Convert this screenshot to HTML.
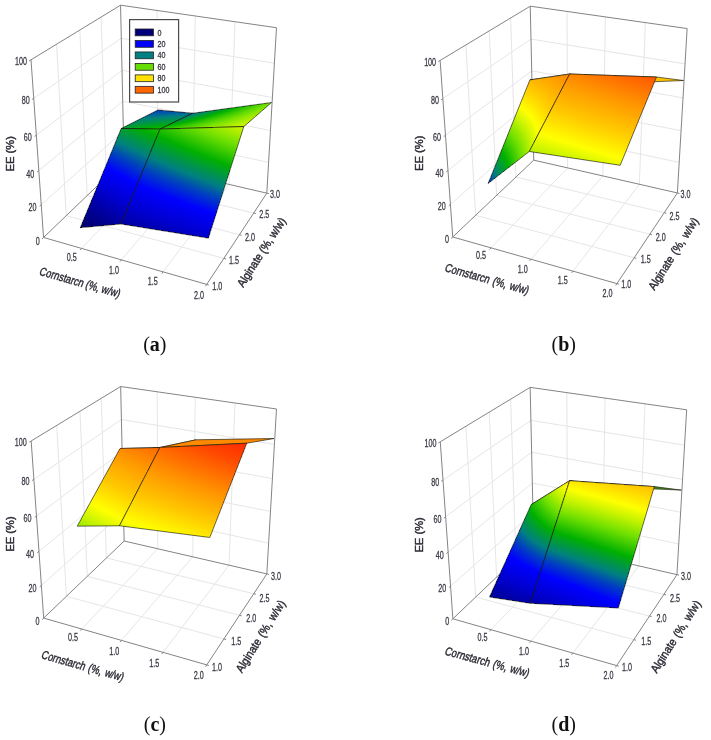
<!DOCTYPE html>
<html><head><meta charset="utf-8"><title>EE surface plots</title>
<style>html,body{margin:0;padding:0;background:#fff}svg{display:block}text{font-family:"Liberation Sans",sans-serif;fill:#3a3844;stroke:#3a3844;stroke-width:0.3px}text.ti{fill:#2c2a34;stroke:#2c2a34;stroke-width:0.42px}text.cap{font-family:"Liberation Serif",serif;fill:#111;stroke:none}</style>
</head><body>
<svg width="711" height="740" viewBox="0 0 711 740">
<rect width="711" height="740" fill="#fff"/>
<defs>
<linearGradient id="cm"><stop offset="0.0000" stop-color="#000058"/><stop offset="0.0800" stop-color="#00006c"/><stop offset="0.1500" stop-color="#000098"/><stop offset="0.2200" stop-color="#0000d0"/><stop offset="0.2900" stop-color="#0000ff"/><stop offset="0.3400" stop-color="#0040c0"/><stop offset="0.3800" stop-color="#008080"/><stop offset="0.4500" stop-color="#00b000"/><stop offset="0.5200" stop-color="#70e000"/><stop offset="0.5700" stop-color="#c0f200"/><stop offset="0.6150" stop-color="#ffff00"/><stop offset="0.6800" stop-color="#ffcc00"/><stop offset="0.7600" stop-color="#ff9800"/><stop offset="0.8200" stop-color="#ff6c00"/><stop offset="0.8700" stop-color="#ff4800"/><stop offset="0.9300" stop-color="#ff2800"/><stop offset="1.0000" stop-color="#ff1000"/></linearGradient>
<linearGradient id="g1" href="#cm" gradientUnits="userSpaceOnUse" x1="134.84" y1="57.36" x2="151.82" y2="218.88"/>
<linearGradient id="g2" href="#cm" gradientUnits="userSpaceOnUse" x1="138.85" y1="58.5" x2="154.68" y2="216.09"/>
<linearGradient id="g3" href="#cm" gradientUnits="userSpaceOnUse" x1="142.86" y1="59.65" x2="157.6" y2="213.37"/>
<linearGradient id="g4" href="#cm" gradientUnits="userSpaceOnUse" x1="146.88" y1="60.79" x2="160.59" y2="210.73"/>
<linearGradient id="g5" href="#cm" gradientUnits="userSpaceOnUse" x1="150.89" y1="61.94" x2="163.63" y2="208.15"/>
<linearGradient id="g6" href="#cm" gradientUnits="userSpaceOnUse" x1="154.91" y1="63.09" x2="166.73" y2="205.63"/>
<linearGradient id="g7" href="#cm" gradientUnits="userSpaceOnUse" x1="158.94" y1="64.24" x2="169.88" y2="203.18"/>
<linearGradient id="g8" href="#cm" gradientUnits="userSpaceOnUse" x1="162.96" y1="65.39" x2="173.08" y2="200.79"/>
<linearGradient id="g9" href="#cm" gradientUnits="userSpaceOnUse" x1="167" y1="66.54" x2="176.34" y2="198.46"/>
<linearGradient id="g10" href="#cm" gradientUnits="userSpaceOnUse" x1="171.04" y1="67.7" x2="179.65" y2="196.19"/>
<linearGradient id="g11" href="#cm" gradientUnits="userSpaceOnUse" x1="172.71" y1="85.81" x2="190.77" y2="168.48"/>
<linearGradient id="g12" href="#cm" gradientUnits="userSpaceOnUse" x1="178.98" y1="80.74" x2="199.9" y2="171.02"/>
<linearGradient id="g13" href="#cm" gradientUnits="userSpaceOnUse" x1="185.07" y1="75.22" x2="209.28" y2="173.65"/>
<linearGradient id="g14" href="#cm" gradientUnits="userSpaceOnUse" x1="190.93" y1="69.2" x2="218.92" y2="176.38"/>
<linearGradient id="g15" href="#cm" gradientUnits="userSpaceOnUse" x1="196.49" y1="62.63" x2="228.85" y2="179.2"/>
<linearGradient id="g16" href="#cm" gradientUnits="userSpaceOnUse" x1="201.7" y1="55.47" x2="239.1" y2="182.11"/>
<linearGradient id="g17" href="#cm" gradientUnits="userSpaceOnUse" x1="206.45" y1="47.65" x2="249.71" y2="185.11"/>
<linearGradient id="g18" href="#cm" gradientUnits="userSpaceOnUse" x1="210.66" y1="39.13" x2="260.7" y2="188.19"/>
<linearGradient id="g19" href="#cm" gradientUnits="userSpaceOnUse" x1="214.18" y1="29.84" x2="272.13" y2="191.35"/>
<linearGradient id="g20" href="#cm" gradientUnits="userSpaceOnUse" x1="216.87" y1="19.74" x2="284.05" y2="194.56"/>
<linearGradient id="g21" href="#cm" gradientUnits="userSpaceOnUse" x1="65.29" y1="245.98" x2="212.51" y2="-21.54"/>
<linearGradient id="g22" href="#cm" gradientUnits="userSpaceOnUse" x1="67.84" y1="248.06" x2="216.48" y2="-21.3"/>
<linearGradient id="g23" href="#cm" gradientUnits="userSpaceOnUse" x1="70.39" y1="250.17" x2="220.47" y2="-21.05"/>
<linearGradient id="g24" href="#cm" gradientUnits="userSpaceOnUse" x1="72.93" y1="252.31" x2="224.5" y2="-20.8"/>
<linearGradient id="g25" href="#cm" gradientUnits="userSpaceOnUse" x1="75.46" y1="254.49" x2="228.55" y2="-20.55"/>
<linearGradient id="g26" href="#cm" gradientUnits="userSpaceOnUse" x1="77.99" y1="256.69" x2="232.63" y2="-20.29"/>
<linearGradient id="g27" href="#cm" gradientUnits="userSpaceOnUse" x1="80.5" y1="258.93" x2="236.75" y2="-20.03"/>
<linearGradient id="g28" href="#cm" gradientUnits="userSpaceOnUse" x1="83.01" y1="261.2" x2="240.89" y2="-19.77"/>
<linearGradient id="g29" href="#cm" gradientUnits="userSpaceOnUse" x1="85.5" y1="263.51" x2="245.07" y2="-19.5"/>
<linearGradient id="g30" href="#cm" gradientUnits="userSpaceOnUse" x1="87.98" y1="265.85" x2="249.27" y2="-19.22"/>
<linearGradient id="g31" href="#cm" gradientUnits="userSpaceOnUse" x1="103.45" y1="274.34" x2="231.84" y2="-30.1"/>
<linearGradient id="g32" href="#cm" gradientUnits="userSpaceOnUse" x1="111.42" y1="276.98" x2="237.32" y2="-26.3"/>
<linearGradient id="g33" href="#cm" gradientUnits="userSpaceOnUse" x1="119.47" y1="279.64" x2="243.01" y2="-22.57"/>
<linearGradient id="g34" href="#cm" gradientUnits="userSpaceOnUse" x1="127.61" y1="282.31" x2="248.92" y2="-18.91"/>
<linearGradient id="g35" href="#cm" gradientUnits="userSpaceOnUse" x1="135.83" y1="285.01" x2="255.03" y2="-15.32"/>
<linearGradient id="g36" href="#cm" gradientUnits="userSpaceOnUse" x1="144.14" y1="287.73" x2="261.34" y2="-11.78"/>
<linearGradient id="g37" href="#cm" gradientUnits="userSpaceOnUse" x1="152.54" y1="290.47" x2="267.84" y2="-8.3"/>
<linearGradient id="g38" href="#cm" gradientUnits="userSpaceOnUse" x1="161.03" y1="293.23" x2="274.53" y2="-4.88"/>
<linearGradient id="g39" href="#cm" gradientUnits="userSpaceOnUse" x1="169.62" y1="296.02" x2="281.39" y2="-1.5"/>
<linearGradient id="g40" href="#cm" gradientUnits="userSpaceOnUse" x1="178.3" y1="298.83" x2="288.44" y2="1.83"/>
<linearGradient id="g41" href="#cm" gradientUnits="userSpaceOnUse" x1="551.51" y1="103.2" x2="549.82" y2="68.94"/>
<linearGradient id="g42" href="#cm" gradientUnits="userSpaceOnUse" x1="555.26" y1="103.82" x2="553.59" y2="68.32"/>
<linearGradient id="g43" href="#cm" gradientUnits="userSpaceOnUse" x1="559.04" y1="104.47" x2="557.39" y2="67.72"/>
<linearGradient id="g44" href="#cm" gradientUnits="userSpaceOnUse" x1="562.83" y1="105.12" x2="561.2" y2="67.12"/>
<linearGradient id="g45" href="#cm" gradientUnits="userSpaceOnUse" x1="566.64" y1="105.8" x2="565.04" y2="66.54"/>
<linearGradient id="g46" href="#cm" gradientUnits="userSpaceOnUse" x1="570.46" y1="106.48" x2="568.9" y2="65.97"/>
<linearGradient id="g47" href="#cm" gradientUnits="userSpaceOnUse" x1="574.31" y1="107.18" x2="572.79" y2="65.42"/>
<linearGradient id="g48" href="#cm" gradientUnits="userSpaceOnUse" x1="578.17" y1="107.88" x2="576.69" y2="64.88"/>
<linearGradient id="g49" href="#cm" gradientUnits="userSpaceOnUse" x1="582.06" y1="108.61" x2="580.61" y2="64.36"/>
<linearGradient id="g50" href="#cm" gradientUnits="userSpaceOnUse" x1="585.96" y1="109.34" x2="584.56" y2="63.85"/>
<linearGradient id="g51" href="#cm" gradientUnits="userSpaceOnUse" x1="409.6" y1="235.78" x2="601.15" y2="37.37"/>
<linearGradient id="g52" href="#cm" gradientUnits="userSpaceOnUse" x1="406.66" y1="236.7" x2="605.45" y2="38.8"/>
<linearGradient id="g53" href="#cm" gradientUnits="userSpaceOnUse" x1="403.19" y1="237.32" x2="609.82" y2="40.42"/>
<linearGradient id="g54" href="#cm" gradientUnits="userSpaceOnUse" x1="399.16" y1="237.55" x2="614.25" y2="42.24"/>
<linearGradient id="g55" href="#cm" gradientUnits="userSpaceOnUse" x1="394.5" y1="237.29" x2="618.72" y2="44.3"/>
<linearGradient id="g56" href="#cm" gradientUnits="userSpaceOnUse" x1="389.18" y1="236.4" x2="623.22" y2="46.62"/>
<linearGradient id="g57" href="#cm" gradientUnits="userSpaceOnUse" x1="383.14" y1="234.7" x2="627.72" y2="49.25"/>
<linearGradient id="g58" href="#cm" gradientUnits="userSpaceOnUse" x1="376.37" y1="231.97" x2="632.19" y2="52.23"/>
<linearGradient id="g59" href="#cm" gradientUnits="userSpaceOnUse" x1="368.88" y1="227.96" x2="636.56" y2="55.61"/>
<linearGradient id="g60" href="#cm" gradientUnits="userSpaceOnUse" x1="360.74" y1="222.35" x2="640.76" y2="59.42"/>
<linearGradient id="g61" href="#cm" gradientUnits="userSpaceOnUse" x1="470.52" y1="361.66" x2="593.48" y2="-5.55"/>
<linearGradient id="g62" href="#cm" gradientUnits="userSpaceOnUse" x1="479.57" y1="363.59" x2="600.83" y2="-2.58"/>
<linearGradient id="g63" href="#cm" gradientUnits="userSpaceOnUse" x1="488.67" y1="365.57" x2="608.32" y2="0.37"/>
<linearGradient id="g64" href="#cm" gradientUnits="userSpaceOnUse" x1="497.84" y1="367.6" x2="615.93" y2="3.29"/>
<linearGradient id="g65" href="#cm" gradientUnits="userSpaceOnUse" x1="507.07" y1="369.68" x2="623.68" y2="6.19"/>
<linearGradient id="g66" href="#cm" gradientUnits="userSpaceOnUse" x1="516.37" y1="371.81" x2="631.55" y2="9.07"/>
<linearGradient id="g67" href="#cm" gradientUnits="userSpaceOnUse" x1="525.73" y1="373.98" x2="639.54" y2="11.94"/>
<linearGradient id="g68" href="#cm" gradientUnits="userSpaceOnUse" x1="535.18" y1="376.21" x2="647.67" y2="14.79"/>
<linearGradient id="g69" href="#cm" gradientUnits="userSpaceOnUse" x1="544.69" y1="378.48" x2="655.92" y2="17.62"/>
<linearGradient id="g70" href="#cm" gradientUnits="userSpaceOnUse" x1="554.28" y1="380.8" x2="664.3" y2="20.44"/>
<linearGradient id="g71" href="#cm" gradientUnits="userSpaceOnUse" x1="147.25" y1="499.37" x2="137.24" y2="430.95"/>
<linearGradient id="g72" href="#cm" gradientUnits="userSpaceOnUse" x1="151.65" y1="497.36" x2="140.95" y2="431.42"/>
<linearGradient id="g73" href="#cm" gradientUnits="userSpaceOnUse" x1="156.11" y1="495.25" x2="144.68" y2="431.86"/>
<linearGradient id="g74" href="#cm" gradientUnits="userSpaceOnUse" x1="160.64" y1="493.08" x2="148.44" y2="432.23"/>
<linearGradient id="g75" href="#cm" gradientUnits="userSpaceOnUse" x1="165.28" y1="490.92" x2="152.21" y2="432.5"/>
<linearGradient id="g76" href="#cm" gradientUnits="userSpaceOnUse" x1="170.09" y1="488.91" x2="155.97" y2="432.63"/>
<linearGradient id="g77" href="#cm" gradientUnits="userSpaceOnUse" x1="175.21" y1="487.31" x2="159.68" y2="432.54"/>
<linearGradient id="g78" href="#cm" gradientUnits="userSpaceOnUse" x1="180.93" y1="486.58" x2="163.24" y2="432.07"/>
<linearGradient id="g79" href="#cm" gradientUnits="userSpaceOnUse" x1="187.94" y1="487.65" x2="166.47" y2="430.98"/>
<linearGradient id="g80" href="#cm" gradientUnits="userSpaceOnUse" x1="198.07" y1="492.5" x2="168.83" y2="428.72"/>
<linearGradient id="g81" href="#cm" gradientUnits="userSpaceOnUse" x1="-12.43" y1="711.47" x2="157.68" y2="374.12"/>
<linearGradient id="g82" href="#cm" gradientUnits="userSpaceOnUse" x1="-9.3" y1="713.9" x2="160.89" y2="375.3"/>
<linearGradient id="g83" href="#cm" gradientUnits="userSpaceOnUse" x1="-6.14" y1="716.34" x2="164.11" y2="376.49"/>
<linearGradient id="g84" href="#cm" gradientUnits="userSpaceOnUse" x1="-2.95" y1="718.8" x2="167.35" y2="377.69"/>
<linearGradient id="g85" href="#cm" gradientUnits="userSpaceOnUse" x1="0.25" y1="721.28" x2="170.62" y2="378.9"/>
<linearGradient id="g86" href="#cm" gradientUnits="userSpaceOnUse" x1="3.48" y1="723.77" x2="173.91" y2="380.13"/>
<linearGradient id="g87" href="#cm" gradientUnits="userSpaceOnUse" x1="6.73" y1="726.28" x2="177.22" y2="381.36"/>
<linearGradient id="g88" href="#cm" gradientUnits="userSpaceOnUse" x1="10.01" y1="728.81" x2="180.55" y2="382.6"/>
<linearGradient id="g89" href="#cm" gradientUnits="userSpaceOnUse" x1="13.31" y1="731.35" x2="183.91" y2="383.85"/>
<linearGradient id="g90" href="#cm" gradientUnits="userSpaceOnUse" x1="16.63" y1="733.91" x2="187.29" y2="385.11"/>
<linearGradient id="g91" href="#cm" gradientUnits="userSpaceOnUse" x1="43.57" y1="743.05" x2="183.94" y2="384.62"/>
<linearGradient id="g92" href="#cm" gradientUnits="userSpaceOnUse" x1="53.92" y1="743.98" x2="190.28" y2="388.33"/>
<linearGradient id="g93" href="#cm" gradientUnits="userSpaceOnUse" x1="64.22" y1="745.01" x2="196.85" y2="391.94"/>
<linearGradient id="g94" href="#cm" gradientUnits="userSpaceOnUse" x1="74.48" y1="746.15" x2="203.63" y2="395.48"/>
<linearGradient id="g95" href="#cm" gradientUnits="userSpaceOnUse" x1="84.72" y1="747.38" x2="210.63" y2="398.94"/>
<linearGradient id="g96" href="#cm" gradientUnits="userSpaceOnUse" x1="94.95" y1="748.72" x2="217.82" y2="402.33"/>
<linearGradient id="g97" href="#cm" gradientUnits="userSpaceOnUse" x1="105.18" y1="750.14" x2="225.2" y2="405.66"/>
<linearGradient id="g98" href="#cm" gradientUnits="userSpaceOnUse" x1="115.41" y1="751.65" x2="232.76" y2="408.93"/>
<linearGradient id="g99" href="#cm" gradientUnits="userSpaceOnUse" x1="125.67" y1="753.25" x2="240.5" y2="412.15"/>
<linearGradient id="g100" href="#cm" gradientUnits="userSpaceOnUse" x1="135.95" y1="754.94" x2="248.42" y2="415.32"/>
<linearGradient id="g101" href="#cm" gradientUnits="userSpaceOnUse" x1="597.94" y1="539.2" x2="483.8" y2="435.56"/>
<linearGradient id="g102" href="#cm" gradientUnits="userSpaceOnUse" x1="575.91" y1="525.69" x2="525.77" y2="453.91"/>
<linearGradient id="g103" href="#cm" gradientUnits="userSpaceOnUse" x1="571.88" y1="518.48" x2="540.84" y2="462.28"/>
<linearGradient id="g104" href="#cm" gradientUnits="userSpaceOnUse" x1="572.51" y1="514.96" x2="549.16" y2="465.21"/>
<linearGradient id="g105" href="#cm" gradientUnits="userSpaceOnUse" x1="574.84" y1="513.33" x2="555.13" y2="465.56"/>
<linearGradient id="g106" href="#cm" gradientUnits="userSpaceOnUse" x1="577.91" y1="512.76" x2="560.13" y2="464.59"/>
<linearGradient id="g107" href="#cm" gradientUnits="userSpaceOnUse" x1="581.37" y1="512.85" x2="564.69" y2="462.95"/>
<linearGradient id="g108" href="#cm" gradientUnits="userSpaceOnUse" x1="585.02" y1="513.34" x2="569.04" y2="460.95"/>
<linearGradient id="g109" href="#cm" gradientUnits="userSpaceOnUse" x1="588.78" y1="514.12" x2="573.29" y2="458.79"/>
<linearGradient id="g110" href="#cm" gradientUnits="userSpaceOnUse" x1="592.61" y1="515.08" x2="577.52" y2="456.57"/>
<linearGradient id="g111" href="#cm" gradientUnits="userSpaceOnUse" x1="454.69" y1="627.63" x2="641.34" y2="377.23"/>
<linearGradient id="g112" href="#cm" gradientUnits="userSpaceOnUse" x1="459.62" y1="629.02" x2="636.76" y2="379.88"/>
<linearGradient id="g113" href="#cm" gradientUnits="userSpaceOnUse" x1="464.45" y1="630.36" x2="633.06" y2="382.55"/>
<linearGradient id="g114" href="#cm" gradientUnits="userSpaceOnUse" x1="469.2" y1="631.64" x2="630.12" y2="385.2"/>
<linearGradient id="g115" href="#cm" gradientUnits="userSpaceOnUse" x1="473.88" y1="632.89" x2="627.84" y2="387.81"/>
<linearGradient id="g116" href="#cm" gradientUnits="userSpaceOnUse" x1="478.5" y1="634.12" x2="626.14" y2="390.36"/>
<linearGradient id="g117" href="#cm" gradientUnits="userSpaceOnUse" x1="483.08" y1="635.33" x2="624.95" y2="392.84"/>
<linearGradient id="g118" href="#cm" gradientUnits="userSpaceOnUse" x1="487.61" y1="636.53" x2="624.22" y2="395.25"/>
<linearGradient id="g119" href="#cm" gradientUnits="userSpaceOnUse" x1="492.11" y1="637.72" x2="623.88" y2="397.59"/>
<linearGradient id="g120" href="#cm" gradientUnits="userSpaceOnUse" x1="496.59" y1="638.92" x2="623.91" y2="399.85"/>
<linearGradient id="g121" href="#cm" gradientUnits="userSpaceOnUse" x1="517.37" y1="649.48" x2="606.38" y2="389.67"/>
<linearGradient id="g122" href="#cm" gradientUnits="userSpaceOnUse" x1="524.68" y1="652.98" x2="614.25" y2="390.95"/>
<linearGradient id="g123" href="#cm" gradientUnits="userSpaceOnUse" x1="532.07" y1="656.53" x2="622.21" y2="392.26"/>
<linearGradient id="g124" href="#cm" gradientUnits="userSpaceOnUse" x1="539.54" y1="660.14" x2="630.26" y2="393.58"/>
<linearGradient id="g125" href="#cm" gradientUnits="userSpaceOnUse" x1="547.09" y1="663.81" x2="638.39" y2="394.93"/>
<linearGradient id="g126" href="#cm" gradientUnits="userSpaceOnUse" x1="554.72" y1="667.53" x2="646.62" y2="396.3"/>
<linearGradient id="g127" href="#cm" gradientUnits="userSpaceOnUse" x1="562.43" y1="671.32" x2="654.94" y2="397.7"/>
<linearGradient id="g128" href="#cm" gradientUnits="userSpaceOnUse" x1="570.23" y1="675.16" x2="663.35" y2="399.11"/>
<linearGradient id="g129" href="#cm" gradientUnits="userSpaceOnUse" x1="578.11" y1="679.07" x2="671.85" y2="400.56"/>
<linearGradient id="g130" href="#cm" gradientUnits="userSpaceOnUse" x1="586.08" y1="683.05" x2="680.46" y2="402.02"/>
</defs>
<g id="panel-a">
<path d="M81.61 248.43L157.71 167.93M157.71 167.93L157.14 10.48M121.4 259.87L192.68 176.01M192.68 176.01L195.25 15.98M163.06 271.86L229.01 184.41M229.01 184.41L234.99 21.72M66.28 215.65L223.86 258.39M66.28 215.65L56.58 44.22M87.13 195.62L239.46 234.69M87.13 195.62L79.83 30.03M106.32 177.18L253.72 213.03M106.32 177.18L101.08 17.08M41.24 204.67L123.4 131.16M123.4 131.16L268.6 162.38M38.83 170.58L122.73 101.23M122.73 101.23L270.47 130.52M36.33 135.13L122.03 70.29M122.03 70.29L272.4 97.5M33.73 98.24L121.31 38.3M121.31 38.3L274.4 63.25" stroke="#e6e6e6" stroke-width="1" fill="none"/>
<path d="M43.56 237.48L124.05 160.14M124.05 160.14L266.81 193.15M124.05 160.14L120.56 5.19M31.01 59.81L120.56 5.19M120.56 5.19L276.48 27.71M266.81 193.15L276.48 27.71" stroke="#848484" stroke-width="1" fill="none"/>
<rect x="129.6" y="19.6" width="49" height="82.4" fill="#fff" stroke="#4a4a4a" stroke-width="1.2"/>
<rect x="135.2" y="29" width="18.2" height="6.8" fill="#00007c" stroke="#222" stroke-width="0.8"/>
<text transform="translate(157.6,35.5) scale(0.767,1)" font-size="9.3" text-anchor="start">0</text>
<rect x="135.2" y="40.47" width="18.2" height="6.8" fill="#0000ff" stroke="#222" stroke-width="0.8"/>
<text transform="translate(157.6,46.97) scale(0.767,1)" font-size="9.3" text-anchor="start">20</text>
<rect x="135.2" y="51.94" width="18.2" height="6.8" fill="#008080" stroke="#222" stroke-width="0.8"/>
<text transform="translate(157.6,58.44) scale(0.767,1)" font-size="9.3" text-anchor="start">40</text>
<rect x="135.2" y="63.41" width="18.2" height="6.8" fill="#66dd00" stroke="#222" stroke-width="0.8"/>
<text transform="translate(157.6,69.91) scale(0.767,1)" font-size="9.3" text-anchor="start">60</text>
<rect x="135.2" y="74.88" width="18.2" height="6.8" fill="#ffe000" stroke="#222" stroke-width="0.8"/>
<text transform="translate(157.6,81.38) scale(0.767,1)" font-size="9.3" text-anchor="start">80</text>
<rect x="135.2" y="86.35" width="18.2" height="6.8" fill="#ff6600" stroke="#222" stroke-width="0.8"/>
<text transform="translate(157.6,92.85) scale(0.767,1)" font-size="9.3" text-anchor="start">100</text>
<g shape-rendering="crispEdges"><polygon points="121.2,128.5 126.32,128.58 162.55,110.42 157.9,110" fill="url(#g1)"/><polygon points="124.99,128.56 130.14,128.64 166.01,110.74 161.34,110.31" fill="url(#g2)"/><polygon points="128.8,128.62 133.97,128.7 169.48,111.06 164.79,110.63" fill="url(#g3)"/><polygon points="132.63,128.68 137.83,128.76 172.97,111.37 168.26,110.95" fill="url(#g4)"/><polygon points="136.48,128.74 141.71,128.82 176.48,111.69 171.75,111.26" fill="url(#g5)"/><polygon points="140.35,128.8 145.6,128.88 180,112.02 175.25,111.58" fill="url(#g6)"/><polygon points="144.24,128.86 149.52,128.94 183.54,112.34 178.77,111.9" fill="url(#g7)"/><polygon points="148.15,128.92 153.46,129 187.1,112.66 182.3,112.22" fill="url(#g8)"/><polygon points="152.08,128.98 157.42,129.06 190.67,112.99 185.85,112.55" fill="url(#g9)"/><polygon points="156.03,129.04 160,129.1 193,113.2 189.42,112.87" fill="url(#g10)"/></g><polygon points="121.2,128.5 160,129.1 193,113.2 157.9,110" fill="none" stroke="#1c1c10" stroke-width="0.65" stroke-linejoin="round"/>
<g shape-rendering="crispEdges"><polygon points="160,129.1 170.77,128.78 203.12,111.82 193,113.2" fill="url(#g11)"/><polygon points="167.96,128.86 178.86,128.54 210.71,110.79 200.48,112.18" fill="url(#g12)"/><polygon points="176.02,128.62 187.03,128.29 218.38,109.75 208.04,111.15" fill="url(#g13)"/><polygon points="184.16,128.38 195.3,128.05 226.14,108.69 215.69,110.11" fill="url(#g14)"/><polygon points="192.39,128.13 203.66,127.8 233.98,107.62 223.41,109.06" fill="url(#g15)"/><polygon points="200.72,127.88 212.11,127.54 241.91,106.54 231.22,108" fill="url(#g16)"/><polygon points="209.14,127.63 220.66,127.29 249.92,105.45 239.12,106.92" fill="url(#g17)"/><polygon points="217.66,127.38 229.31,127.03 258.03,104.35 247.11,105.83" fill="url(#g18)"/><polygon points="226.27,127.12 238.06,126.77 266.22,103.23 255.18,104.74" fill="url(#g19)"/><polygon points="234.99,126.86 243.8,126.6 271.6,102.5 263.34,103.62" fill="url(#g20)"/></g><polygon points="160,129.1 243.8,126.6 271.6,102.5 193,113.2" fill="none" stroke="#1c1c10" stroke-width="0.65" stroke-linejoin="round"/>
<g shape-rendering="crispEdges"><polygon points="80.3,227.7 85.65,227.21 126.32,128.58 121.2,128.5" fill="url(#g21)"/><polygon points="84.26,227.34 89.64,226.85 130.14,128.64 124.99,128.56" fill="url(#g22)"/><polygon points="88.24,226.98 93.66,226.49 133.97,128.7 128.8,128.62" fill="url(#g23)"/><polygon points="92.25,226.61 97.7,226.12 137.83,128.76 132.63,128.68" fill="url(#g24)"/><polygon points="96.28,226.25 101.76,225.75 141.71,128.82 136.48,128.74" fill="url(#g25)"/><polygon points="100.34,225.88 105.85,225.38 145.6,128.88 140.35,128.8" fill="url(#g26)"/><polygon points="104.42,225.51 109.97,225 149.52,128.94 144.24,128.86" fill="url(#g27)"/><polygon points="108.52,225.13 114.11,224.63 153.46,129 148.15,128.92" fill="url(#g28)"/><polygon points="112.66,224.76 118.28,224.25 157.42,129.06 152.08,128.98" fill="url(#g29)"/><polygon points="116.82,224.38 121,224 160,129.1 156.03,129.04" fill="url(#g30)"/></g><polygon points="80.3,227.7 121,224 160,129.1 121.2,128.5" fill="none" stroke="#1c1c10" stroke-width="0.65" stroke-linejoin="round"/>
<g shape-rendering="crispEdges"><polygon points="121,224 132.27,225.82 170.77,128.78 160,129.1" fill="url(#g31)"/><polygon points="129.33,225.34 140.71,227.18 178.86,128.54 167.96,128.86" fill="url(#g32)"/><polygon points="137.75,226.7 149.25,228.56 187.03,128.29 176.02,128.62" fill="url(#g33)"/><polygon points="146.25,228.07 157.88,229.95 195.3,128.05 184.16,128.38" fill="url(#g34)"/><polygon points="154.85,229.46 166.6,231.36 203.66,127.8 192.39,128.13" fill="url(#g35)"/><polygon points="163.54,230.86 175.41,232.78 212.11,127.54 200.72,127.88" fill="url(#g36)"/><polygon points="172.32,232.28 184.32,234.21 220.66,127.29 209.14,127.63" fill="url(#g37)"/><polygon points="181.19,233.71 193.33,235.67 229.31,127.03 217.66,127.38" fill="url(#g38)"/><polygon points="190.16,235.16 202.43,237.14 238.06,126.77 226.27,127.12" fill="url(#g39)"/><polygon points="199.23,236.62 208.4,238.1 243.8,126.6 234.99,126.86" fill="url(#g40)"/></g><polygon points="121,224 208.4,238.1 243.8,126.6 160,129.1" fill="none" stroke="#1c1c10" stroke-width="0.65" stroke-linejoin="round"/>
<path d="M43.56 237.48L31.01 59.81M43.56 237.48L206.72 284.42M206.72 284.42L266.81 193.15M43.56 237.48L41.97 239M41.24 204.67L39.6 206.14M38.83 170.58L37.14 171.98M36.33 135.13L34.58 136.46M33.73 98.24L31.91 99.48M31.01 59.81L29.13 60.95M81.61 248.43L80.1 250.02M121.4 259.87L119.98 261.55M163.06 271.86L161.74 273.61M206.72 284.42L205.51 286.26M206.72 284.42L208.84 285.03M223.86 258.39L225.98 258.96M239.46 234.69L241.59 235.24M253.72 213.03L255.86 213.55M266.81 193.15L268.95 193.64" stroke="#848484" stroke-width="1" fill="none"/>
<text transform="translate(26.9,64.95) scale(0.665,1)" font-size="10.8" text-anchor="end">100</text>
<text transform="translate(29.7,104.25) scale(0.665,1)" font-size="10.8" text-anchor="end">80</text>
<text transform="translate(31.8,141.45) scale(0.665,1)" font-size="10.8" text-anchor="end">60</text>
<text transform="translate(34.2,177.75) scale(0.665,1)" font-size="10.8" text-anchor="end">40</text>
<text transform="translate(36.6,211.35) scale(0.665,1)" font-size="10.8" text-anchor="end">20</text>
<text transform="translate(39.7,244.85) scale(0.665,1)" font-size="10.8" text-anchor="end">0</text>
<text transform="translate(71.8,260.75) scale(0.665,1)" font-size="10.8" text-anchor="middle">0.5</text>
<text transform="translate(114,274.25) scale(0.665,1)" font-size="10.8" text-anchor="middle">1.0</text>
<text transform="translate(152.8,285.15) scale(0.665,1)" font-size="10.8" text-anchor="middle">1.5</text>
<text transform="translate(198.9,298.75) scale(0.665,1)" font-size="10.8" text-anchor="middle">2.0</text>
<text transform="translate(275,197.65) scale(0.665,1)" font-size="10.8" text-anchor="middle">3.0</text>
<text transform="translate(264.25,217.75) scale(0.665,1)" font-size="10.8" text-anchor="middle">2.5</text>
<text transform="translate(249.9,241.15) scale(0.665,1)" font-size="10.8" text-anchor="middle">2.0</text>
<text transform="translate(233.95,264.15) scale(0.665,1)" font-size="10.8" text-anchor="middle">1.5</text>
<text transform="translate(217.3,290.45) scale(0.665,1)" font-size="10.8" text-anchor="middle">1.0</text>
<text transform="translate(14.1,153.7) rotate(-90) scale(1.12,1)" font-size="10" text-anchor="middle" class="ti">EE (%)</text>
<text transform="translate(38.6,274.8) rotate(15.8) skewX(-6) scale(0.78,1)" font-size="11.9" class="ti" word-spacing="0">Cornstarcn (%, w/w)</text>
<text transform="translate(243.2,288) rotate(-57.3) scale(0.885,1)" font-size="11.7" class="ti" word-spacing="0">Alginate (%, w/w)</text>
</g>
<g id="panel-b">
<path d="M491.04 247.86L567.62 167.88M567.62 167.88L567.04 11.44M531.08 259.24L602.8 175.91M602.8 175.91L605.38 16.9M573 271.15L639.36 184.26M639.36 184.26L645.38 22.61M475.61 215.3L634.18 257.76M475.61 215.3L465.85 44.96M496.59 195.4L649.87 234.22M496.59 195.4L489.25 30.87M515.9 177.07L664.22 212.69M515.9 177.07L510.63 17.99M450.42 204.39L533.09 131.35M533.09 131.35L679.2 162.37M447.99 170.52L532.41 101.61M532.41 101.61L681.08 130.71M445.47 135.29L531.71 70.87M531.71 70.87L683.02 97.9M442.85 98.63L530.98 39.08M530.98 39.08L685.04 63.87" stroke="#e6e6e6" stroke-width="1" fill="none"/>
<path d="M452.75 236.99L533.74 160.15M533.74 160.15L677.39 192.94M533.74 160.15L530.24 6.19M440.12 60.45L530.24 6.19M530.24 6.19L687.13 28.56M677.39 192.94L687.13 28.56" stroke="#848484" stroke-width="1" fill="none"/>
<g shape-rendering="crispEdges"><polygon points="529.9,79.9 535.14,79.12 572.2,84.96 567.31,85.13" fill="url(#g41)"/><polygon points="533.78,79.33 539.04,78.54 575.84,84.83 570.93,85" fill="url(#g42)"/><polygon points="537.67,78.75 542.97,77.96 579.5,84.7 574.56,84.88" fill="url(#g43)"/><polygon points="541.59,78.17 546.92,77.38 583.18,84.58 578.22,84.75" fill="url(#g44)"/><polygon points="545.54,77.58 550.9,76.79 586.87,84.45 581.89,84.62" fill="url(#g45)"/><polygon points="549.51,76.99 554.9,76.19 590.59,84.32 585.58,84.49" fill="url(#g46)"/><polygon points="553.5,76.4 558.92,75.6 594.32,84.19 589.28,84.36" fill="url(#g47)"/><polygon points="557.51,75.81 562.97,75 598.07,84.05 593.01,84.23" fill="url(#g48)"/><polygon points="561.55,75.21 567.04,74.39 601.83,83.92 596.75,84.1" fill="url(#g49)"/><polygon points="565.61,74.61 569.7,74 604.29,83.84 600.51,83.97" fill="url(#g50)"/></g><polygon points="529.9,79.9 569.7,74 604.29,83.84 567.31,85.13" fill="none" stroke="#1c1c10" stroke-width="0.65" stroke-linejoin="round"/>
<polygon points="569.7,74 656.5,77 683.5,80.5 604.29,83.84" fill="#ffc400"/><polygon points="569.7,74 656.5,77 683.5,80.5 604.29,83.84" fill="none" stroke="#1c1c10" stroke-width="0.65" stroke-linejoin="round"/>
<g shape-rendering="crispEdges"><polygon points="488.1,183.5 493.44,179.35 535.14,79.12 529.9,79.9" fill="url(#g51)"/><polygon points="492.05,180.43 497.44,176.25 539.04,78.54 533.78,79.33" fill="url(#g52)"/><polygon points="496.04,177.34 501.48,173.12 542.97,77.96 537.67,78.75" fill="url(#g53)"/><polygon points="500.06,174.22 505.55,169.95 546.92,77.38 541.59,78.17" fill="url(#g54)"/><polygon points="504.12,171.06 509.66,166.76 550.9,76.79 545.54,77.58" fill="url(#g55)"/><polygon points="508.22,167.88 513.81,163.53 554.9,76.19 549.51,76.99" fill="url(#g56)"/><polygon points="512.36,164.67 518,160.28 558.92,75.6 553.5,76.4" fill="url(#g57)"/><polygon points="516.53,161.42 522.23,156.99 562.97,75 557.51,75.81" fill="url(#g58)"/><polygon points="520.75,158.15 526.5,153.67 567.04,74.39 561.55,75.21" fill="url(#g59)"/><polygon points="525,154.84 529.3,151.5 569.7,74 565.61,74.61" fill="url(#g60)"/></g><polygon points="488.1,183.5 529.3,151.5 569.7,74 529.9,79.9" fill="none" stroke="#1c1c10" stroke-width="0.65" stroke-linejoin="round"/>
<g shape-rendering="crispEdges"><polygon points="529.3,151.5 541.01,153.28 580.89,74.39 569.7,74" fill="url(#g61)"/><polygon points="537.96,152.82 549.79,154.61 589.28,74.68 577.97,74.29" fill="url(#g62)"/><polygon points="546.7,154.14 558.66,155.96 597.76,74.97 586.33,74.58" fill="url(#g63)"/><polygon points="555.54,155.49 567.63,157.32 606.33,75.27 594.78,74.87" fill="url(#g64)"/><polygon points="564.48,156.84 576.7,158.7 614.99,75.57 603.32,75.16" fill="url(#g65)"/><polygon points="573.52,158.22 585.87,160.09 623.74,75.87 611.95,75.46" fill="url(#g66)"/><polygon points="582.65,159.6 595.14,161.5 632.59,76.17 620.67,75.76" fill="url(#g67)"/><polygon points="591.88,161 604.51,162.92 641.53,76.48 629.48,76.07" fill="url(#g68)"/><polygon points="601.22,162.42 613.98,164.36 650.57,76.8 638.39,76.37" fill="url(#g69)"/><polygon points="610.66,163.85 620.2,165.3 656.5,77 647.4,76.69" fill="url(#g70)"/></g><polygon points="529.3,151.5 620.2,165.3 656.5,77 569.7,74" fill="none" stroke="#1c1c10" stroke-width="0.65" stroke-linejoin="round"/>
<path d="M452.75 236.99L440.12 60.45M452.75 236.99L616.93 283.63M616.93 283.63L677.39 192.94M452.75 236.99L451.15 238.5M450.42 204.39L448.77 205.85M447.99 170.52L446.29 171.91M445.47 135.29L443.71 136.61M442.85 98.63L441.03 99.87M440.12 60.45L438.24 61.58M491.04 247.86L489.51 249.45M531.08 259.24L529.64 260.91M573 271.15L571.66 272.9M616.93 283.63L615.71 285.46M616.93 283.63L619.05 284.23M634.18 257.76L636.3 258.33M649.87 234.22L652.01 234.76M664.22 212.69L666.36 213.21M677.39 192.94L679.53 193.43" stroke="#848484" stroke-width="1" fill="none"/>
<text transform="translate(436.1,65.5) scale(0.665,1)" font-size="10.8" text-anchor="end">100</text>
<text transform="translate(438.9,104.38) scale(0.665,1)" font-size="10.8" text-anchor="end">80</text>
<text transform="translate(441,141.18) scale(0.665,1)" font-size="10.8" text-anchor="end">60</text>
<text transform="translate(443.4,177.09) scale(0.665,1)" font-size="10.8" text-anchor="end">40</text>
<text transform="translate(445.8,210.32) scale(0.665,1)" font-size="10.8" text-anchor="end">20</text>
<text transform="translate(448.9,243.46) scale(0.665,1)" font-size="10.8" text-anchor="end">0</text>
<text transform="translate(481.1,259.05) scale(0.665,1)" font-size="10.8" text-anchor="middle">0.5</text>
<text transform="translate(522.8,272.95) scale(0.665,1)" font-size="10.8" text-anchor="middle">1.0</text>
<text transform="translate(562.8,284.25) scale(0.665,1)" font-size="10.8" text-anchor="middle">1.5</text>
<text transform="translate(607.6,296.85) scale(0.665,1)" font-size="10.8" text-anchor="middle">2.0</text>
<text transform="translate(685.4,197.75) scale(0.665,1)" font-size="10.8" text-anchor="middle">3.0</text>
<text transform="translate(674.4,219.55) scale(0.665,1)" font-size="10.8" text-anchor="middle">2.5</text>
<text transform="translate(660.7,240.55) scale(0.665,1)" font-size="10.8" text-anchor="middle">2.0</text>
<text transform="translate(645.8,262.65) scale(0.665,1)" font-size="10.8" text-anchor="middle">1.5</text>
<text transform="translate(626.2,288.45) scale(0.665,1)" font-size="10.8" text-anchor="middle">1.0</text>
<text transform="translate(422.6,153.2) rotate(-90) scale(1.12,1)" font-size="10" text-anchor="middle" class="ti">EE (%)</text>
<text transform="translate(444,271.1) rotate(15.6) skewX(-6) scale(0.79,1)" font-size="11.9" class="ti" word-spacing="1.2">Cornstarcn (%, w/w)</text>
<text transform="translate(654.4,291) rotate(-57.6) scale(0.897,1)" font-size="11.7" class="ti" word-spacing="1.2">Alginate (%, w/w)</text>
</g>
<g id="panel-c">
<path d="M81.73 629.01L157.79 548.76M157.79 548.76L157.21 391.8M121.5 640.42L192.73 556.82M192.73 556.82L195.3 397.29M163.14 652.36L229.04 565.19M229.04 565.19L235.02 403.01M66.41 596.33L223.9 638.93M66.41 596.33L56.71 425.43M87.24 576.37L239.49 615.31M87.24 576.37L79.96 411.3M106.43 557.98L253.74 593.72M106.43 557.98L101.19 398.38M41.39 585.39L123.5 512.11M123.5 512.11L268.61 543.23M38.98 551.41L122.82 482.27M122.82 482.27L270.48 511.47M36.48 516.06L122.13 451.43M122.13 451.43L272.41 478.55M33.88 479.28L121.41 419.53M121.41 419.53L274.41 444.41" stroke="#e6e6e6" stroke-width="1" fill="none"/>
<path d="M43.7 618.09L124.15 541M124.15 541L266.82 573.9M124.15 541L120.66 386.53M31.17 440.97L120.66 386.53M120.66 386.53L276.49 408.98M266.82 573.9L276.49 408.98" stroke="#848484" stroke-width="1" fill="none"/>
<g shape-rendering="crispEdges"><polygon points="120,448.5 125.26,448.37 162.52,458.21 157.47,460.98" fill="url(#g71)"/><polygon points="123.89,448.4 129.18,448.27 166.29,456.14 161.21,458.93" fill="url(#g72)"/><polygon points="127.81,448.3 133.13,448.17 170.09,454.05 164.97,456.86" fill="url(#g73)"/><polygon points="131.75,448.21 137.09,448.07 173.91,451.95 168.76,454.78" fill="url(#g74)"/><polygon points="135.7,448.11 141.08,447.97 177.76,449.84 172.57,452.69" fill="url(#g75)"/><polygon points="139.68,448.01 145.09,447.87 181.63,447.7 176.41,450.58" fill="url(#g76)"/><polygon points="143.68,447.91 149.12,447.77 185.53,445.56 180.27,448.45" fill="url(#g77)"/><polygon points="147.7,447.81 153.17,447.67 189.46,443.4 184.17,446.31" fill="url(#g78)"/><polygon points="151.75,447.7 157.24,447.57 193.42,441.22 188.08,444.16" fill="url(#g79)"/><polygon points="155.81,447.6 159.9,447.5 196,439.8 192.03,441.99" fill="url(#g80)"/></g><polygon points="120,448.5 159.9,447.5 196,439.8 157.47,460.98" fill="none" stroke="#1c1c10" stroke-width="0.65" stroke-linejoin="round"/>
<polygon points="159.9,447.5 246.8,443.2 274,438.5 196,439.8" fill="#ff8a00"/><polygon points="159.9,447.5 246.8,443.2 274,438.5 196,439.8" fill="none" stroke="#1c1c10" stroke-width="0.65" stroke-linejoin="round"/>
<g shape-rendering="crispEdges"><polygon points="77.2,526.2 82.77,526.15 125.26,448.37 120,448.5" fill="url(#g81)"/><polygon points="81.32,526.16 86.92,526.11 129.18,448.27 123.89,448.4" fill="url(#g82)"/><polygon points="85.46,526.12 91.1,526.07 133.13,448.17 127.81,448.3" fill="url(#g83)"/><polygon points="89.63,526.08 95.3,526.03 137.09,448.07 131.75,448.21" fill="url(#g84)"/><polygon points="93.82,526.04 99.52,525.99 141.08,447.97 135.7,448.11" fill="url(#g85)"/><polygon points="98.04,526 103.77,525.95 145.09,447.87 139.68,448.01" fill="url(#g86)"/><polygon points="102.28,525.96 108.05,525.91 149.12,447.77 143.68,447.91" fill="url(#g87)"/><polygon points="106.55,525.92 112.35,525.87 153.17,447.67 147.7,447.81" fill="url(#g88)"/><polygon points="110.84,525.88 116.67,525.83 157.24,447.57 151.75,447.7" fill="url(#g89)"/><polygon points="115.16,525.84 119.5,525.8 159.9,447.5 155.81,447.6" fill="url(#g90)"/></g><polygon points="77.2,526.2 119.5,525.8 159.9,447.5 120,448.5" fill="none" stroke="#1c1c10" stroke-width="0.65" stroke-linejoin="round"/>
<g shape-rendering="crispEdges"><polygon points="119.5,525.8 131.11,527.31 171.06,446.95 159.9,447.5" fill="url(#g91)"/><polygon points="128.09,526.91 139.83,528.44 179.44,446.53 168.15,447.09" fill="url(#g92)"/><polygon points="136.77,528.04 148.64,529.58 187.92,446.11 176.5,446.68" fill="url(#g93)"/><polygon points="145.55,529.18 157.55,530.73 196.49,445.69 184.94,446.26" fill="url(#g94)"/><polygon points="154.42,530.33 166.56,531.9 205.16,445.26 193.48,445.84" fill="url(#g95)"/><polygon points="163.39,531.49 175.67,533.08 213.92,444.83 202.11,445.41" fill="url(#g96)"/><polygon points="172.47,532.66 184.88,534.27 222.79,444.39 210.84,444.98" fill="url(#g97)"/><polygon points="181.64,533.85 194.19,535.48 231.76,443.94 219.68,444.54" fill="url(#g98)"/><polygon points="190.92,535.05 203.62,536.7 240.84,443.49 228.61,444.1" fill="url(#g99)"/><polygon points="200.31,536.27 209.8,537.5 246.8,443.2 237.65,443.65" fill="url(#g100)"/></g><polygon points="119.5,525.8 209.8,537.5 246.8,443.2 159.9,447.5" fill="none" stroke="#1c1c10" stroke-width="0.65" stroke-linejoin="round"/>
<path d="M43.7 618.09L31.17 440.97M43.7 618.09L206.77 664.89M206.77 664.89L266.82 573.9M43.7 618.09L42.12 619.62M41.39 585.39L39.75 586.85M38.98 551.41L37.29 552.8M36.48 516.06L34.73 517.39M33.88 479.28L32.06 480.52M31.17 440.97L29.29 442.12M81.73 629.01L80.22 630.6M121.5 640.42L120.07 642.09M163.14 652.36L161.81 654.12M206.77 664.89L205.56 666.72M206.77 664.89L208.88 665.49M223.9 638.93L226.02 639.51M239.49 615.31L241.62 615.86M253.74 593.72L255.88 594.24M266.82 573.9L268.96 574.4" stroke="#848484" stroke-width="1" fill="none"/>
<text transform="translate(26.7,445.95) scale(0.665,1)" font-size="10.8" text-anchor="end">100</text>
<text transform="translate(29.5,485.09) scale(0.665,1)" font-size="10.8" text-anchor="end">80</text>
<text transform="translate(31.6,522.14) scale(0.665,1)" font-size="10.8" text-anchor="end">60</text>
<text transform="translate(34,558.3) scale(0.665,1)" font-size="10.8" text-anchor="end">40</text>
<text transform="translate(36.4,591.77) scale(0.665,1)" font-size="10.8" text-anchor="end">20</text>
<text transform="translate(39.5,625.14) scale(0.665,1)" font-size="10.8" text-anchor="end">0</text>
<text transform="translate(72.9,641.35) scale(0.665,1)" font-size="10.8" text-anchor="middle">0.5</text>
<text transform="translate(114.2,655.35) scale(0.665,1)" font-size="10.8" text-anchor="middle">1.0</text>
<text transform="translate(154.2,666.65) scale(0.665,1)" font-size="10.8" text-anchor="middle">1.5</text>
<text transform="translate(198.8,678.85) scale(0.665,1)" font-size="10.8" text-anchor="middle">2.0</text>
<text transform="translate(275.9,580.35) scale(0.665,1)" font-size="10.8" text-anchor="middle">3.0</text>
<text transform="translate(264.5,601.95) scale(0.665,1)" font-size="10.8" text-anchor="middle">2.5</text>
<text transform="translate(251.3,622.45) scale(0.665,1)" font-size="10.8" text-anchor="middle">2.0</text>
<text transform="translate(236.3,644.85) scale(0.665,1)" font-size="10.8" text-anchor="middle">1.5</text>
<text transform="translate(217,670.55) scale(0.665,1)" font-size="10.8" text-anchor="middle">1.0</text>
<text transform="translate(13.6,534) rotate(-90) scale(1.12,1)" font-size="10" text-anchor="middle" class="ti">EE (%)</text>
<text transform="translate(40.5,658.1) rotate(15.8) skewX(-6) scale(0.776,1)" font-size="11.9" class="ti" word-spacing="1.2">Cornstarch (%, w/w)</text>
<text transform="translate(241.9,673.5) rotate(-58) scale(0.892,1)" font-size="11.7" class="ti" word-spacing="1.2">Alginate (%, w/w)</text>
</g>
<g id="panel-d">
<path d="M491.07 629.72L567.45 549.51M567.45 549.51L566.87 392.62M531 641.12L602.54 557.56M602.54 557.56L605.12 398.11M572.82 653.06L639.01 565.93M639.01 565.93L645.01 403.83M475.68 597.06L633.83 639.64M475.68 597.06L465.94 426.24M496.6 577.1L649.49 616.03M496.6 577.1L489.28 412.11M515.87 558.73L663.8 594.45M515.87 558.73L510.61 399.2M450.55 586.12L533.01 512.88M533.01 512.88L678.74 543.98M448.14 552.15L532.33 483.05M532.33 483.05L680.61 512.23M445.62 516.83L531.63 452.22M531.63 452.22L682.55 479.33M443.01 480.07L530.91 420.34M530.91 420.34L684.56 445.21" stroke="#e6e6e6" stroke-width="1" fill="none"/>
<path d="M452.88 618.81L533.66 541.75M533.66 541.75L676.94 574.64M533.66 541.75L530.16 387.36M440.29 441.77L530.16 387.36M530.16 387.36L686.65 409.8M676.94 574.64L686.65 409.8" stroke="#848484" stroke-width="1" fill="none"/>
<g shape-rendering="crispEdges"><polygon points="531.2,504.6 536.21,501.48 572.04,489.51 567.23,489.92" fill="url(#g101)"/><polygon points="534.9,502.29 539.95,499.15 575.63,489.21 570.79,489.62" fill="url(#g102)"/><polygon points="538.64,499.97 543.72,496.8 579.23,488.9 574.37,489.31" fill="url(#g103)"/><polygon points="542.4,497.63 547.53,494.43 582.86,488.6 577.97,489.01" fill="url(#g104)"/><polygon points="546.19,495.26 551.36,492.05 586.5,488.29 581.59,488.7" fill="url(#g105)"/><polygon points="550.02,492.88 555.23,489.64 590.16,487.98 585.22,488.4" fill="url(#g106)"/><polygon points="553.87,490.49 559.12,487.22 593.84,487.67 588.88,488.09" fill="url(#g107)"/><polygon points="557.76,488.07 563.05,484.77 597.54,487.35 592.55,487.78" fill="url(#g108)"/><polygon points="561.67,485.63 567.01,482.31 601.25,487.04 596.24,487.46" fill="url(#g109)"/><polygon points="565.62,483.18 569.6,480.7 603.68,486.83 599.95,487.15" fill="url(#g110)"/></g><polygon points="531.2,504.6 569.6,480.7 603.68,486.83 567.23,489.92" fill="none" stroke="#1c1c10" stroke-width="0.65" stroke-linejoin="round"/>
<polygon points="569.6,480.7 654.3,486.6 681.3,490.1 603.68,486.83" fill="#3c8a10"/><polygon points="569.6,480.7 654.3,486.6 681.3,490.1 603.68,486.83" fill="none" stroke="#1c1c10" stroke-width="0.65" stroke-linejoin="round"/>
<g shape-rendering="crispEdges"><polygon points="489.5,597 494.9,597.83 536.21,501.48 531.2,504.6" fill="url(#g111)"/><polygon points="493.5,597.62 498.92,598.45 539.95,499.15 534.9,502.29" fill="url(#g112)"/><polygon points="497.51,598.23 502.97,599.07 543.72,496.8 538.64,499.97" fill="url(#g113)"/><polygon points="501.55,598.86 507.04,599.7 547.53,494.43 542.4,497.63" fill="url(#g114)"/><polygon points="505.61,599.48 511.12,600.33 551.36,492.05 546.19,495.26" fill="url(#g115)"/><polygon points="509.69,600.11 515.23,600.96 555.23,489.64 550.02,492.88" fill="url(#g116)"/><polygon points="513.79,600.74 519.36,601.6 559.12,487.22 553.87,490.49" fill="url(#g117)"/><polygon points="517.91,601.38 523.51,602.24 563.05,484.77 557.76,488.07" fill="url(#g118)"/><polygon points="522.05,602.01 527.68,602.88 567.01,482.31 561.67,485.63" fill="url(#g119)"/><polygon points="526.21,602.66 530.4,603.3 569.6,480.7 565.62,483.18" fill="url(#g120)"/></g><polygon points="489.5,597 530.4,603.3 569.6,480.7 531.2,504.6" fill="none" stroke="#1c1c10" stroke-width="0.65" stroke-linejoin="round"/>
<g shape-rendering="crispEdges"><polygon points="530.4,603.3 541.67,603.9 580.53,481.46 569.6,480.7" fill="url(#g121)"/><polygon points="538.73,603.75 550.14,604.36 588.72,482.03 577.68,481.26" fill="url(#g122)"/><polygon points="547.17,604.2 558.7,604.81 597,482.61 585.85,481.83" fill="url(#g123)"/><polygon points="555.7,604.65 567.37,605.28 605.37,483.19 594.1,482.41" fill="url(#g124)"/><polygon points="564.32,605.11 576.14,605.75 613.82,483.78 602.43,482.99" fill="url(#g125)"/><polygon points="573.06,605.58 585.01,606.22 622.36,484.38 610.85,483.57" fill="url(#g126)"/><polygon points="581.89,606.05 593.98,606.7 630.99,484.98 619.36,484.17" fill="url(#g127)"/><polygon points="590.83,606.53 603.07,607.19 639.71,485.58 627.96,484.77" fill="url(#g128)"/><polygon points="599.88,607.01 612.26,607.68 648.52,486.2 636.64,485.37" fill="url(#g129)"/><polygon points="609.03,607.5 618.3,608 654.3,486.6 645.43,485.98" fill="url(#g130)"/></g><polygon points="530.4,603.3 618.3,608 654.3,486.6 569.6,480.7" fill="none" stroke="#1c1c10" stroke-width="0.65" stroke-linejoin="round"/>
<path d="M452.88 618.81L440.29 441.77M452.88 618.81L616.63 665.58M616.63 665.58L676.94 574.64M452.88 618.81L451.29 620.33M450.55 586.12L448.91 587.58M448.14 552.15L446.44 553.55M445.62 516.83L443.86 518.15M443.01 480.07L441.19 481.3M440.29 441.77L438.4 442.91M491.07 629.72L489.55 631.31M531 641.12L529.57 642.79M572.82 653.06L571.49 654.82M616.63 665.58L615.42 667.41M616.63 665.58L618.75 666.18M633.83 639.64L635.96 640.21M649.49 616.03L651.62 616.57M663.8 594.45L665.94 594.96M676.94 574.64L679.08 575.13" stroke="#848484" stroke-width="1" fill="none"/>
<text transform="translate(436.5,446.85) scale(0.665,1)" font-size="10.8" text-anchor="end">100</text>
<text transform="translate(439.3,485.84) scale(0.665,1)" font-size="10.8" text-anchor="end">80</text>
<text transform="translate(441.4,522.75) scale(0.665,1)" font-size="10.8" text-anchor="end">60</text>
<text transform="translate(443.8,558.76) scale(0.665,1)" font-size="10.8" text-anchor="end">40</text>
<text transform="translate(446.2,592.1) scale(0.665,1)" font-size="10.8" text-anchor="end">20</text>
<text transform="translate(449.3,625.33) scale(0.665,1)" font-size="10.8" text-anchor="end">0</text>
<text transform="translate(482.4,641.15) scale(0.665,1)" font-size="10.8" text-anchor="middle">0.5</text>
<text transform="translate(524,655.35) scale(0.665,1)" font-size="10.8" text-anchor="middle">1.0</text>
<text transform="translate(564.2,666.65) scale(0.665,1)" font-size="10.8" text-anchor="middle">1.5</text>
<text transform="translate(608.6,678.85) scale(0.665,1)" font-size="10.8" text-anchor="middle">2.0</text>
<text transform="translate(686,579.75) scale(0.665,1)" font-size="10.8" text-anchor="middle">3.0</text>
<text transform="translate(675,601.65) scale(0.665,1)" font-size="10.8" text-anchor="middle">2.5</text>
<text transform="translate(661.5,622.15) scale(0.665,1)" font-size="10.8" text-anchor="middle">2.0</text>
<text transform="translate(646.3,644.85) scale(0.665,1)" font-size="10.8" text-anchor="middle">1.5</text>
<text transform="translate(627,670.55) scale(0.665,1)" font-size="10.8" text-anchor="middle">1.0</text>
<text transform="translate(422.6,534.9) rotate(-90) scale(1.12,1)" font-size="10" text-anchor="middle" class="ti">EE (%)</text>
<text transform="translate(444,654.4) rotate(15.2) skewX(-6) scale(0.795,1)" font-size="11.9" class="ti" word-spacing="1.2">Cornstarch (%, w/w)</text>
<text transform="translate(656.7,673.8) rotate(-57.6) scale(0.897,1)" font-size="11.7" class="ti" word-spacing="1.2">Alginate (%, w/w)</text>
</g>
<text x="154.85" y="350.6" text-anchor="middle" class="cap" font-size="20">(<tspan font-weight="bold">a</tspan>)</text>
<text x="563.7" y="350.6" text-anchor="middle" class="cap" font-size="20">(<tspan font-weight="bold">b</tspan>)</text>
<text x="154.9" y="731" text-anchor="middle" class="cap" font-size="20">(<tspan font-weight="bold">c</tspan>)</text>
<text x="563.8" y="731" text-anchor="middle" class="cap" font-size="20">(<tspan font-weight="bold">d</tspan>)</text>
</svg>
</body></html>
